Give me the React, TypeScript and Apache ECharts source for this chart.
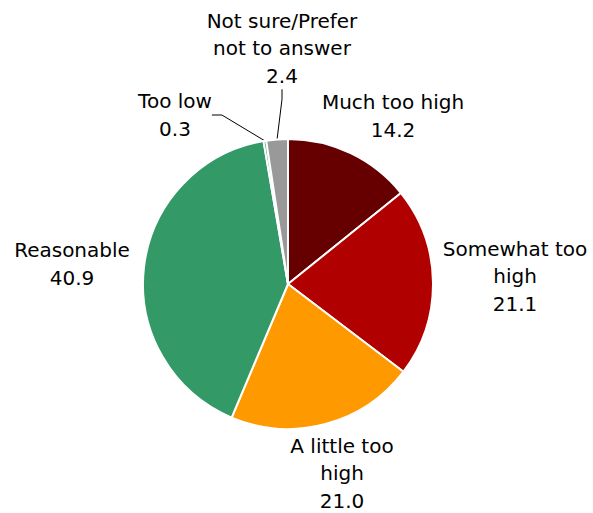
import React, { useEffect, useRef } from "react";
import * as echarts from "echarts";

const categories = [
  "Much too high",
  "Somewhat too\nhigh",
  "A little too\nhigh",
  "Reasonable",
  "Too low",
  "Not sure/Prefer\nnot to answer",
];
const values = [14.2, 21.1, 21.0, 40.9, 0.3, 2.4];
const colors = ["#660000", "#B00000", "#FF9900", "#339966", "#339966", "#999999"];
const showLeader = [false, false, false, false, true, true];

// label block centres (layout only)
const labelCenters: [number, number][] = [
  [393, 116],
  [515, 276],
  [342, 473],
  [72, 264],
  [175, 115],
  [282, 48],
];

export default function App() {
  const ref = useRef<HTMLDivElement>(null);
  useEffect(() => {
    if (!ref.current) return;
    const chart = echarts.init(ref.current, null, { renderer: "svg" });
    chart.setOption({
      animation: false,
      backgroundColor: "#ffffff",
      series: [
        {
          type: "pie",
          center: [288, 284],
          radius: 145,
          startAngle: 90,
          clockwise: true,
          avoidLabelOverlap: false,
          itemStyle: { borderColor: "#ffffff", borderWidth: 2 },
          label: {
            show: true,
            position: "outside",
            formatter: (p: any) => `${p.name}\n${p.value.toFixed(1)}`,
            fontFamily: "DejaVu Sans",
            fontSize: 20,
            lineHeight: 27.5,
            color: "#000000",
            align: "center",
          },
          labelLine: {
            show: true,
            length: 10,
            length2: 10,
            lineStyle: { color: "#000000", width: 1 },
          },
          labelLayout: (params: any) => {
            const c = labelCenters[params.dataIndex];
            return { x: c[0], y: c[1], align: "center", verticalAlign: "middle" };
          },
          data: categories.map((name, i) => ({
            name,
            value: values[i],
            itemStyle: { color: colors[i] },
            labelLine: { show: showLeader[i] },
          })),
        },
      ],
    });
    return () => chart.dispose();
  }, []);
  return (
    <div
      ref={ref}
      style={{ position: "absolute", left: 0, top: 0, width: 593, height: 513 }}
    />
  );
}
